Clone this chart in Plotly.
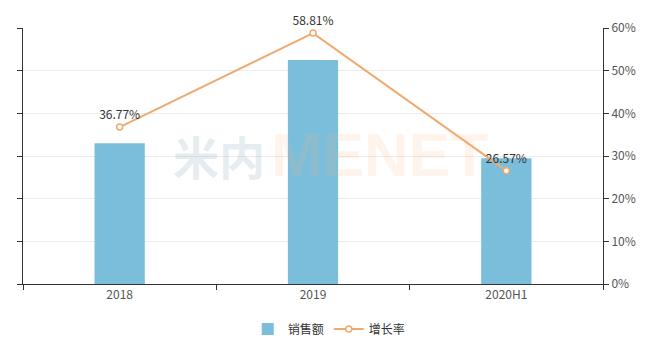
import plotly.graph_objects as go

categories = ["2018", "2019", "2020H1"]
sales = [33.0, 52.5, 29.5]
growth = [0.3677, 0.5881, 0.2657]
growth_labels = ["36.77%", "58.81%", "26.57%"]

BAR = "#7bbedb"
LINE = "#f0aa6e"
FONT = "Noto Sans CJK SC, Noto Sans, sans-serif"

fig = go.Figure()
fig.add_trace(go.Bar(
    x=categories, y=sales, name="销售额",
    marker=dict(color=BAR, line=dict(width=0)),
    yaxis="y",
))
fig.add_trace(go.Scatter(
    x=categories, y=growth, name="增长率", yaxis="y2",
    mode="lines+markers+text",
    line=dict(color=LINE, width=2),
    marker=dict(symbol="circle", size=6, color="white", line=dict(color=LINE, width=1.5)),
    text=growth_labels, textposition="top center",
    textfont=dict(size=12, color="#333333", family=FONT),
    cliponaxis=False,
))

# watermark
fig.add_annotation(
    x=0.338, y=0.504, xref="paper", yref="paper",
    text="<b>米内</b>", showarrow=False,
    font=dict(size=46, color="rgba(120,160,180,0.2)", family="Noto Sans CJK SC"),
)
fig.add_annotation(
    x=0.615, y=0.504, xref="paper", yref="paper",
    text="<b>MENET</b>", showarrow=False,
    font=dict(size=62, color="rgba(250,180,120,0.15)", family="Liberation Sans, sans-serif"),
)

fig.update_layout(
    width=660, height=349,
    margin=dict(l=23, r=57, t=28, b=65, autoexpand=False),
    paper_bgcolor="white", plot_bgcolor="white",
    font=dict(family=FONT, size=12, color="#555555"),
    bargap=0.74,
    showlegend=True,
    legend=dict(orientation="h", x=0.528, xanchor="center", y=-0.176, yanchor="middle",
                font=dict(size=12, color="#333333")),
    xaxis=dict(
        showline=True, linecolor="#333333", linewidth=1,
        ticks="outside", ticklen=5, tickcolor="#333333", tickson="boundaries",
        showgrid=False, tickfont=dict(size=12, color="#555555"),
    ),
    yaxis=dict(
        range=[0, 60], dtick=10, showticklabels=False,
        showline=True, linecolor="#333333", linewidth=1,
        ticks="outside", ticklen=5, tickcolor="#333333",
        showgrid=True, gridcolor="#ececec", zeroline=False,
    ),
    yaxis2=dict(
        range=[0, 0.6], dtick=0.1, tickformat=".0%", overlaying="y", side="right",
        showline=True, linecolor="#333333", linewidth=1,
        ticks="outside", ticklen=5, tickcolor="#333333",
        showgrid=False, zeroline=False, tickfont=dict(size=12, color="#555555"),
    ),
)

fig.write_html("out.html")
